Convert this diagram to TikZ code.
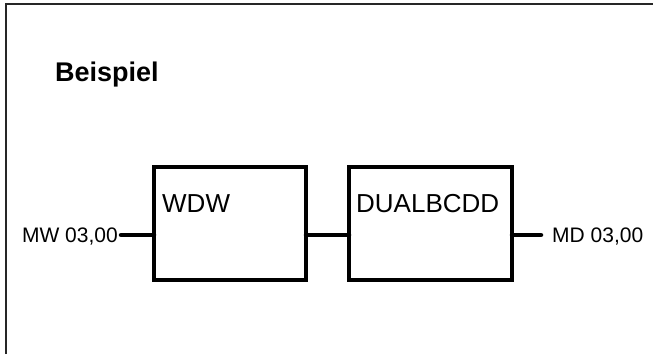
\documentclass[tikz,border=0pt]{standalone}
\usepackage{fontspec}
\setmainfont{Liberation Sans}
\usepackage{tikz}
\usetikzlibrary{positioning, calc}

\begin{document}
\begin{tikzpicture}[
            x=1pt, y=-1pt,
            block/.style={draw=black, line width=4.5pt, rectangle, minimum height=113pt, outer sep=0pt, inner sep=0pt},
            edge/.style={line width=4.5pt, line cap=round},
            blocklabel/.style={anchor=base west, inner sep=0pt, font=\fontsize{26}{30}\selectfont},
            siglabel/.style={inner sep=0pt, text depth=0pt, font=\fontsize{21}{25}\selectfont},
            frame/.style={line width=1.8pt, black!85}
        ]
        \useasboundingbox (0,0) rectangle (653,354);

        % Rahmen
        \draw[frame] (6,354) -- (6,4) -- (653,4);
        \node[anchor=west, inner sep=0pt, font=\bfseries\fontsize{27}{32}\selectfont] (titel) at (55,75) {Beispiel};

        % Knoten
        \node[block, minimum width=152pt] (wdw) at (230,223.5) {};
        \node[block, minimum width=163pt, right=43pt of wdw] (dual) {};
        \node[blocklabel] (wdwtext) at ($(wdw.north west)+(8,45)$) {WDW};
        \node[blocklabel] (dualtext) at ($(dual.north west)+(7,45)$) {DUALBCDD};

        \coordinate (ein) at (121,235);
        \coordinate (aus) at (541,235);
        \node[siglabel, anchor=east] (mw) at ($(ein)+(-3,0)$) {MW 03,00};
        \node[siglabel, anchor=west] (md) at ($(aus)+(11,0)$) {MD 03,00};

        % Kanten
        \draw[edge] (ein) -- (wdw.west |- ein);
        \draw[edge] (wdw.east |- ein) -- (dual.west |- ein);
        \draw[edge] (dual.east |- aus) -- (aus);

    \end{tikzpicture}
\end{document}
